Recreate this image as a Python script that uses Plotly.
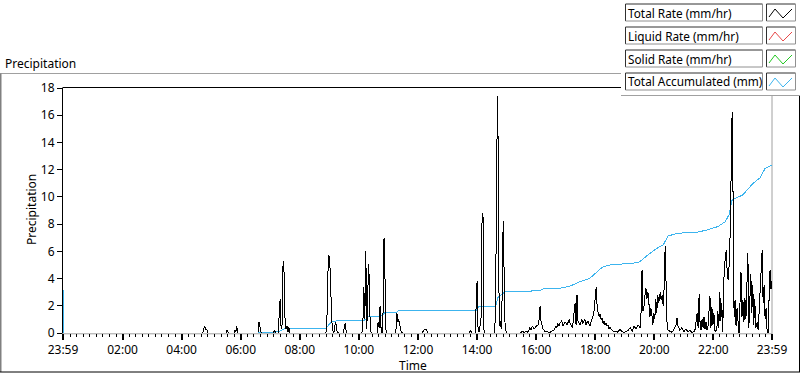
import pandas as pd
import plotly.graph_objects as go

# ---------------- data ----------------
start_time = "2024-01-01 23:59"
end_time = "2024-01-02 23:59"

# Total Rate (mm/hr): minutes after the 23:59 start, and value
rate_minutes = [
    0, 284, 286, 288, 290, 292, 294,
    331, 333, 335, 337,
    347, 349, 351, 353, 355,
    396, 398, 400, 402, 404,
    427, 429, 431, 433,
    437, 439, 441, 443, 445, 447, 449, 451, 453, 455, 457, 459, 461,
    534, 536, 538, 540, 542, 544, 546, 548, 550, 552, 554, 556, 559,
    569, 571, 573, 575, 577,
    607, 609, 611, 613, 615, 617, 619, 621, 624, 626,
    638, 640, 642, 644, 646, 648, 650, 652, 654, 656, 658,
    676, 678, 680, 682, 684, 686, 689,
    729, 731, 735, 739, 741,
    825, 827, 829, 831,
    837, 839, 841, 843, 845, 847, 849, 851, 853, 855, 857,
    877, 879, 881, 883, 886, 888, 890, 892, 894, 896, 898, 900, 902,
    928, 932, 938, 942, 944, 948, 951, 953, 957, 961, 965, 967, 969, 971,
    973, 975, 979, 985, 989, 993, 997, 1001, 1003, 1005, 1007, 1009, 1013,
    1015, 1020, 1024, 1028, 1030, 1034, 1036, 1040, 1042, 1044, 1046, 1050,
    1054, 1056, 1060, 1062, 1066, 1070, 1074, 1078, 1080, 1083, 1085, 1087,
    1089, 1091, 1093, 1095, 1097, 1099, 1101, 1103, 1105, 1107, 1109, 1111,
    1115, 1119, 1123, 1127, 1131, 1135, 1139, 1143, 1148, 1152, 1156, 1160,
    1164, 1168, 1172, 1174, 1176, 1178, 1180, 1182, 1184, 1186, 1188, 1190,
    1192, 1194, 1196, 1198, 1200, 1202, 1204, 1206, 1208, 1210, 1213, 1215,
    1217, 1219, 1221, 1223, 1225, 1227, 1229, 1233, 1237, 1241, 1245, 1247,
    1249, 1253, 1257, 1261, 1265, 1269, 1273, 1277, 1282, 1284, 1286, 1288,
    1290, 1292, 1294, 1296, 1298, 1300, 1302, 1304, 1306, 1308, 1310, 1312,
    1314, 1316, 1318, 1320, 1322, 1324, 1326, 1328, 1330, 1332, 1334, 1336,
    1338, 1340, 1342, 1345, 1347, 1349, 1351, 1353, 1355, 1357, 1359, 1361,
    1363, 1365, 1367, 1369, 1371, 1373, 1375, 1377, 1379, 1381, 1383, 1385,
    1387, 1389, 1391, 1393, 1395, 1397, 1399, 1401, 1403, 1405, 1407, 1410,
    1412, 1414, 1416, 1418, 1420, 1422, 1424, 1426, 1428, 1430, 1432, 1434,
    1436, 1438, 1440,
]
rate_values = [
    0, 0, 0.35, 0.5, 0.2, 0.3, 0,
    0, 0.2, 0.1, 0,
    0, 0.15, 0.1, 0.5, 0,
    0, 0.8, 0.4, 0.1, 0,
    0, 0.2, 0.1, 0,
    0, 1.4, 2.5, 0.3, 0.6, 5.3, 4.4, 1.0, 0.3, 0.5, 0.1, 0.4, 0,
    0, 1.0, 4.4, 5.7, 5.1, 2.4, 0.9, 0.2, 0, 0.5, 0.8, 0.2, 0,
    0, 0.5, 0.7, 0.2, 0,
    0, 0.6, 3.4, 1.0, 6.0, 0.3, 3.0, 5.1, 0.5, 0,
    0, 0.8, 0.4, 2.0, 0.3, 0, 1.5, 7.0, 4.0, 0.2, 0,
    0, 1.5, 0.8, 1.0, 0.4, 0.2, 0,
    0, 0.1, 0.3, 0.2, 0,
    0, 0.2, 0.1, 0,
    0, 1.8, 3.8, 0.3, 0.1, 0.5, 1.0, 8.1, 8.8, 0.2, 0,
    0, 3.6, 13.2, 17.4, 0.5, 0.9, 0.3, 2.8, 8.2, 2.8, 0.3, 0.1, 0,
    0, 0.1, 0.05, 0.15, 0, 0.4, 0.2, 0.5, 0.3, 0.5, 0.6, 1.0, 2.0, 0.8,
    0.6, 0.3, 0.1, 0.1, 0.05, 0.15, 0.2, 0.5, 0.4, 0.7, 0.5, 0.7, 0.9,
    0.5, 0.8, 0.6, 1.0, 0.7, 0.4, 0.8, 2.2, 0.6, 2.8, 0.9, 0.6,
    1.0, 0.7, 1.0, 0.6, 0.9, 0.5, 1.0, 1.4, 2.2, 3.4, 1.8, 1.5,
    1.2, 1.4, 1.0, 1.1, 0.7, 0.9, 0.6, 0.7, 0.5, 0.6, 0.3, 0.4,
    0.2, 0.1, 0.15, 0.05, 0.3, 0.1, 0.05, 0.1, 0.2, 0.4, 0.1, 0.5,
    0.3, 0.6, 0.4, 1.5, 4.6, 1.6, 2.0, 2.8, 3.3, 2.5, 3.0, 2.2,
    1.2, 1.8, 1.4, 0.6, 1.5, 1.0, 2.5, 1.5, 2.8, 2.2, 3.0, 2.4,
    2.8, 2.0, 3.4, 6.4, 4.2, 0.5, 0.2, 0.1, 0.05, 0.3, 0.6, 1.1,
    0.5, 0.2, 0.4, 0.1, 0.3, 0.1, 0.2, 0.05, 0.1, 0.3, 0.9, 1.5,
    0.4, 2.9, 0.6, 0.2, 1.0, 0.4, 1.2, 0.3, 0.8, 0.2, 0.5, 1.8,
    2.7, 0.4, 1.9, 0.6, 1.5, 0.2, 0.1, 0.3, 1.6, 0.4, 3.0, 0.9,
    2.2, 0.1, 3.8, 5.5, 6.1, 4.5, 3.9, 5.0, 7.3, 11.7, 16.2, 9.8,
    1.2, 2.4, 0.5, 1.8, 0.6, 0.0, 2.2, 4.5, 1.2, 2.4, 0.8, 2.6,
    1.0, 3.5, 5.9, 0.4, 2.0, 4.3, 1.5, 3.5, 0.6, 2.5, 0.4, 0.8,
    0.2, 1.5, 3.0, 5.0, 6.1, 2.2, 3.5, 1.0, 1.8, 0.2, 0.0, 2.5,
    4.6, 3.2, 3.8,
]

# Total Accumulated (mm)
accum_minutes = [
    0, 1, 2, 396, 400, 433, 441, 447, 453, 534, 540, 546, 552, 611, 617, 621,
    646, 654, 678, 680, 839, 845, 879, 883, 890, 898, 969, 973, 1009, 1030,
    1050, 1070, 1085, 1095, 1107, 1137, 1168, 1176, 1188, 1206, 1219, 1229,
    1249, 1288, 1308, 1330, 1345, 1353, 1357, 1359, 1381, 1399, 1410, 1416,
    1426, 1440,
]
accum_values = [
    3.2, 1.5, 0, 0, 0.07, 0.07, 0.15, 0.28, 0.35, 0.35, 0.6, 0.85, 0.88, 0.9, 1.1, 1.23,
    1.25, 1.5, 1.54, 1.62, 1.65, 1.96, 1.98, 2.6, 2.8, 3.04, 3.1, 3.23, 3.28, 3.45,
    3.77, 4.02, 4.5, 4.83, 4.98, 5.07, 5.17, 5.37, 5.74, 6.22, 6.47, 7.13,
    7.33, 7.4, 7.57, 7.82, 8.18, 8.7, 9.3, 9.78, 10.15, 10.9, 11.25, 11.4,
    12.1, 12.35,
]

y_ticks = [0, 2, 4, 6, 8, 10, 12, 14, 16, 18]
x_tick_labels = ["23:59", "02:00", "04:00", "06:00", "08:00", "10:00",
                 "12:00", "14:00", "16:00", "18:00", "20:00", "22:00", "23:59"]
legend_names = ["Total Rate (mm/hr)", "Liquid Rate (mm/hr)",
                "Solid Rate (mm/hr)", "Total Accumulated (mm)"]
legend_colors = ["#000000", "#e84848", "#22c822", "#3cb4ee"]

# ---------------- figure ----------------
t0 = pd.Timestamp(start_time)
t_end = pd.Timestamp(end_time)
rate_x = [t0 + pd.Timedelta(minutes=m) for m in rate_minutes]
accum_x = [t0 + pd.Timedelta(minutes=m) for m in accum_minutes]

FONT = "Noto Sans"
W, H = 800, 373
L, R, T, B = 63, 28, 88, 40
PW, PH = W - L - R, H - T - B


def fx(px):
    return (px - L) / PW


def fy(py):
    return (H - B - py) / PH


fig = go.Figure()
fig.add_trace(go.Scatter(x=accum_x, y=accum_values, mode="lines",
                         line=dict(color=legend_colors[3], width=1),
                         name=legend_names[3], hoverinfo="skip"))
fig.add_trace(go.Scatter(x=rate_x, y=rate_values, mode="lines",
                         line=dict(color=legend_colors[0], width=1),
                         name=legend_names[0], hoverinfo="skip"))

day = pd.Timestamp("2024-01-02 00:00")
major_vals = [t0] + [day + pd.Timedelta(hours=h) for h in range(2, 24, 2)] + [t_end]
minor_vals = []
for h in range(0, 24, 2):
    for k in range(1, 9):
        minor_vals.append(day + pd.Timedelta(minutes=h * 60 + k * 120 / 9))

fig.update_xaxes(
    type="date", range=[t0, t_end], showgrid=False, zeroline=False, showline=False,
    ticks="outside", ticklen=6, tickwidth=2, tickcolor="black",
    tickmode="array", tickvals=major_vals, ticktext=x_tick_labels,
    tickfont=dict(family=FONT, size=12, color="#000"),
    minor=dict(tickmode="array", tickvals=minor_vals, ticks="outside",
               ticklen=3, tickwidth=1, tickcolor="black", showgrid=False),
    fixedrange=True,
)
fig.update_yaxes(
    range=[0, 18], showgrid=False, zeroline=False, showline=False,
    ticks="outside", ticklen=5, tickwidth=1, tickcolor="black",
    tickmode="array", tickvals=y_ticks,
    tickfont=dict(family=FONT, size=12, color="#000"),
    fixedrange=True,
)

shapes = []


def hline(x0, x1, py, color, layer="below", width=1):
    shapes.append(dict(type="line", xref="paper", yref="paper",
                       x0=fx(x0), x1=fx(x1), y0=fy(py), y1=fy(py),
                       line=dict(color=color, width=width), layer=layer))


def vline(px, y0, y1, color, layer="below", width=1):
    shapes.append(dict(type="line", xref="paper", yref="paper",
                       x0=fx(px), x1=fx(px), y0=fy(y0), y1=fy(y1),
                       line=dict(color=color, width=width), layer=layer))


# outer frame (sunken look)
hline(0, 622, 73.5, "#a0a0a0")
vline(0.5, 73.5, 372, "#808080", width=2)
hline(0, 800, 372, "#000000")
vline(799.5, 95, 372, "#000000")

# plot frame
hline(63, 772, 87.5, "#000000")
vline(62.5, 87.5, 333.5, "#000000")
vline(772, 87.5, 334, "#a0a0a0")
hline(62.5, 772, 333.8, "#a0a0a0")

# legend panel
shapes.append(dict(type="rect", xref="paper", yref="paper",
                   x0=fx(621), x1=fx(800), y0=fy(95.5), y1=fy(0),
                   fillcolor="white", line=dict(width=0), layer="above"))
hline(621, 800, 95.5, "#a0a0a0", layer="above")

rows = [(4, 21), (27, 44), (50, 67), (73, 90)]
annotations = []
for (top, bot), name, col in zip(rows, legend_names, legend_colors):
    for bx0, bx1 in [(625.5, 762.5), (766.5, 795.5)]:
        hline(bx0, bx1, top, "#303030", layer="above")
        vline(bx0, top, bot, "#303030", layer="above")
        hline(bx0, bx1, bot, "#909090", layer="above")
        vline(bx1, top, bot, "#909090", layer="above")
    pts = [(769, top + 13), (775, top + 5), (783, top + 14), (792, top + 5)]
    path = "M " + " L ".join(f"{fx(a)},{fy(b)}" for a, b in pts)
    shapes.append(dict(type="path", xref="paper", yref="paper", path=path,
                       line=dict(color=col, width=1), layer="above"))
    annotations.append(dict(xref="paper", yref="paper", x=fx(626), y=fy((top + bot) / 2),
                            text=name, showarrow=False, xanchor="left", yanchor="middle",
                            font=dict(family=FONT, size=11.8, color="#000")))

annotations.append(dict(xref="paper", yref="paper", x=fx(3), y=fy(63),
                        text="Precipitation", showarrow=False, xanchor="left",
                        yanchor="middle", font=dict(family=FONT, size=12, color="#000")))
annotations.append(dict(xref="paper", yref="paper", x=fx(31), y=fy(210),
                        text="Precipitation", showarrow=False, textangle=-90,
                        xanchor="center", yanchor="middle",
                        font=dict(family=FONT, size=12, color="#000")))
annotations.append(dict(xref="paper", yref="paper", x=fx(413), y=fy(365),
                        text="Time", showarrow=False, xanchor="center",
                        yanchor="middle", font=dict(family=FONT, size=12, color="#000")))

fig.update_layout(
    width=W, height=H, margin=dict(l=L, r=R, t=T, b=B, pad=0),
    paper_bgcolor="white", plot_bgcolor="white", showlegend=False,
    shapes=shapes, annotations=annotations,
)

post = (
    "document.body.style.margin='0';document.body.style.padding='0';"
    "document.querySelectorAll('.scatterlayer path.js-line').forEach("
    "function(p){p.style.shapeRendering='crispEdges';});"
)
fig.write_html("out.html", config={"displayModeBar": False}, post_script=post)
